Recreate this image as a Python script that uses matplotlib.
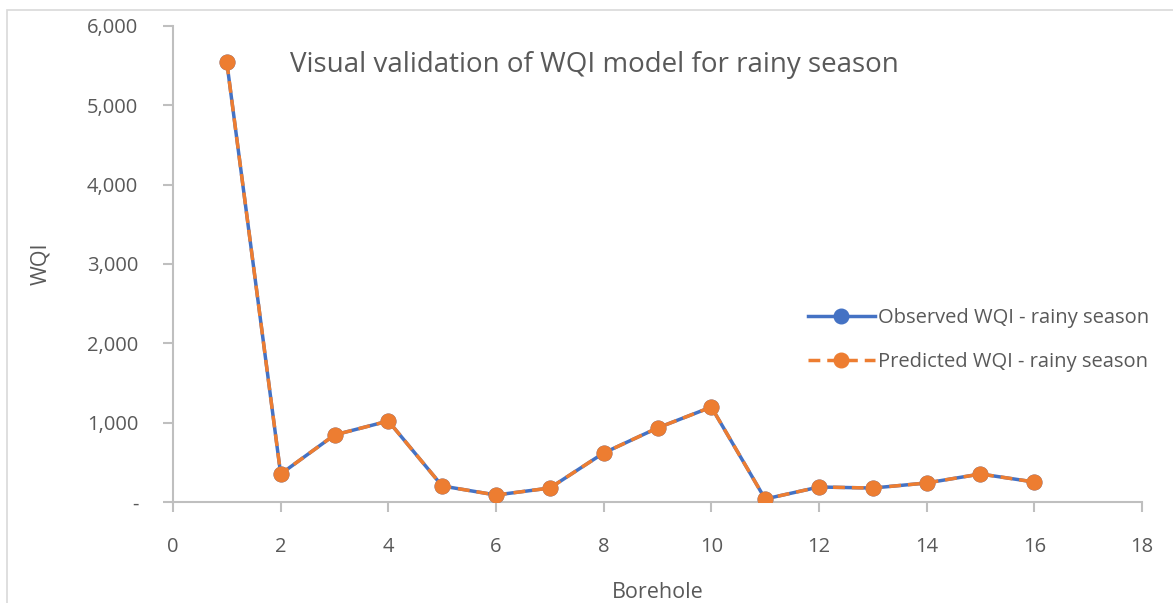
import matplotlib
matplotlib.use("Agg")
import matplotlib.pyplot as plt
from matplotlib.patches import Rectangle
from matplotlib.ticker import FuncFormatter

boreholes = [1, 2, 3, 4, 5, 6, 7, 8, 9, 10, 11, 12, 13, 14, 15, 16]
observed = [5540, 353, 845, 1021, 202, 88, 176, 618, 933, 1197, 38, 189, 176, 240, 353, 252]
predicted = [5540, 353, 845, 1021, 202, 88, 176, 618, 933, 1197, 38, 189, 176, 240, 353, 252]
title = "Visual validation of WQI model for rainy season"
obs_label = "Observed WQI - rainy season"
pred_label = "Predicted WQI - rainy season"

plt.rcParams['font.family'] = ['Open Sans', 'DejaVu Sans']
blue = '#4472C4'
orange = '#ED7D31'
txt = '#595959'
grid = '#BFBFBF'

fig = plt.figure(figsize=(11.73, 6.03), dpi=100)
fig.patches.append(Rectangle((7/1173, -0.1), 1.2, 1 - 10/603 + 0.1, transform=fig.transFigure,
                             fill=False, edgecolor='#D9D9D9', linewidth=1.2))
ax = fig.add_axes([173/1173, 1 - 502/603, (1142 - 173)/1173, (502 - 26)/603])

ax.plot(boreholes, observed, color=blue, lw=2.5, marker='o', ms=10.5, mfc=blue, mec=blue,
        label=obs_label, zorder=3)
ax.plot(boreholes, predicted, color=orange, lw=2.5, ls=(0, (3.4, 2.0)), marker='o', ms=10.5,
        mfc=orange, mec=orange, label=pred_label, zorder=4)

ax.set_xlim(0, 18)
ax.set_ylim(0, 6000)
ax.set_xticks(range(0, 19, 2))
ax.set_yticks(range(0, 6001, 1000))
ax.yaxis.set_major_formatter(FuncFormatter(lambda v, p: '-' if v == 0 else f"{int(v):,}"))

for s in ['top', 'right']:
    ax.spines[s].set_visible(False)
for s in ['left', 'bottom']:
    ax.spines[s].set_color(grid)
    ax.spines[s].set_linewidth(1.5)
ax.tick_params(axis='both', colors=grid, labelcolor=txt, labelsize=14.5, length=7, width=1.5)
ax.tick_params(axis='x', pad=18)
ax.tick_params(axis='y', pad=18)

ax.set_xlabel("Borehole", fontsize=15.5, color=txt, labelpad=18)
ax.set_ylabel("WQI", fontsize=15.5, color=txt, labelpad=26)
fig.text(290/1173, 1 - 65/603, title, fontsize=20, color=txt, va='center', ha='left')

leg = ax.legend(loc='center left', bbox_to_anchor=(790/1173, 1 - 340/603),
                bbox_transform=fig.transFigure, frameon=False, fontsize=14.5,
                handlelength=3.3, labelspacing=1.2, handletextpad=0.15)
for t in leg.get_texts():
    t.set_color(txt)

fig.savefig("out.png", dpi=100)
